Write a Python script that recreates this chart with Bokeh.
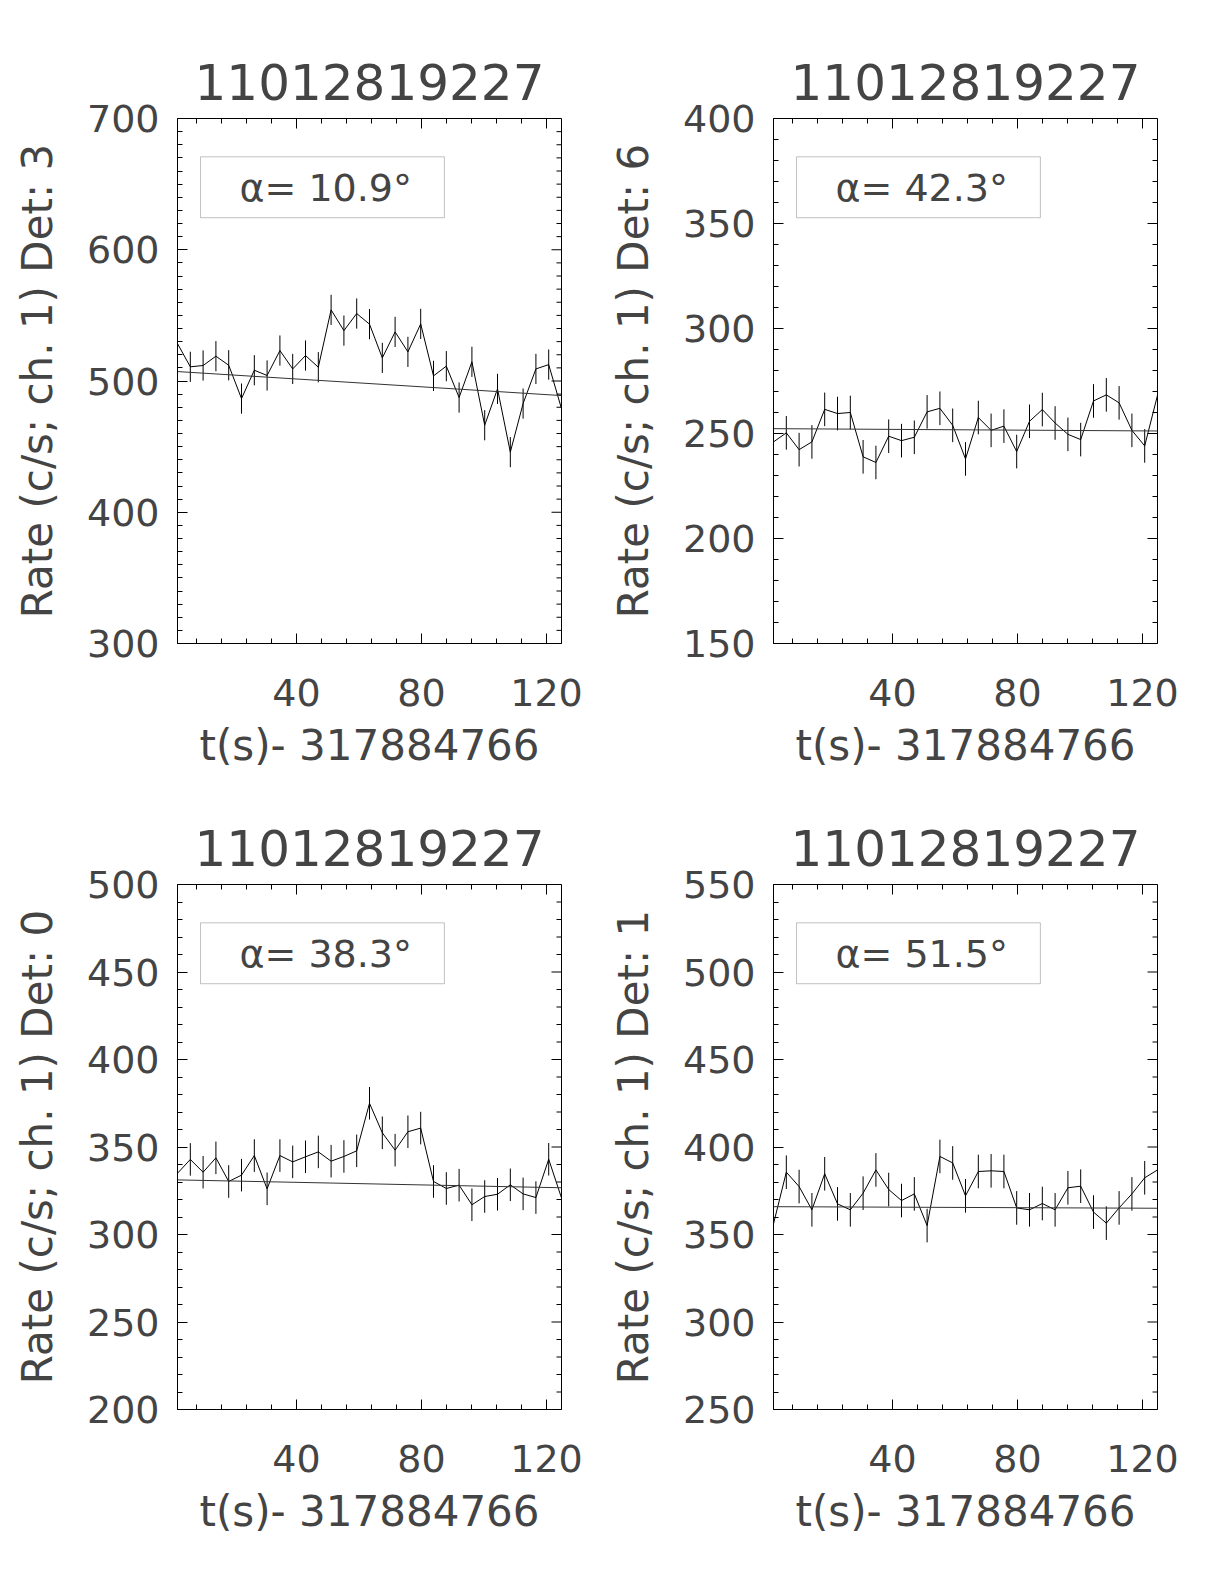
import math
from bokeh.plotting import figure
from bokeh.layouts import column, row
from bokeh.models import FixedTicker, Range1d, Label, BoxAnnotation
from bokeh.embed import file_html
from bokeh.resources import INLINE

# ---------------- data ----------------
title_text = "11012819227"
x_label = "t(s)- 317884766"

times = [1.92, 6.02, 10.11, 14.21, 18.30, 22.40, 26.50, 30.59, 34.69, 38.78,
         42.88, 46.98, 51.07, 55.17, 59.26, 63.36, 67.46, 71.55, 75.65, 79.74,
         83.84, 87.94, 92.03, 96.13, 100.22, 104.32, 108.42, 112.51, 116.61, 120.70,
         124.80]
x_ticks = [40, 80, 120]

det3_rate = [528.5, 510.8, 511.8, 518.9, 512.0, 486.6, 508.2, 504.2, 523.2, 509.2,
             519.4, 510.5, 554.2, 538.4, 551.4, 543.3, 517.6, 537.4, 522.2, 543.5,
             503.9, 511.3, 487.4, 514.6, 466.3, 494.0, 445.8, 482.8, 509.2, 512.5,
             478.9]
det3_err = 11.5
det3_fit = [507.2, 488.9]
det3_alpha = 10.9
det3_yticks = [300, 400, 500, 600, 700]

det6_rate = [246.0, 250.3, 242.3, 246.0, 261.5, 259.5, 260.0, 238.9, 236.2, 248.7,
             246.6, 248.2, 260.3, 262.0, 253.9, 237.9, 257.6, 251.5, 253.5, 241.4,
             255.8, 261.4, 255.0, 249.6, 247.1, 265.5, 268.4, 264.6, 251.5, 244.1,
             268.2]
det6_err = 8.0
det6_fit = [252.3, 251.2]
det6_alpha = 42.3
det6_yticks = [150, 200, 250, 300, 350, 400]

det0_rate = [335.0, 342.9, 335.6, 343.8, 330.3, 333.9, 345.1, 326.1, 345.1, 341.5,
             344.4, 347.2, 341.9, 344.6, 347.8, 375.0, 358.1, 348.2, 358.7, 360.8,
             330.3, 326.3, 328.2, 317.0, 321.7, 323.0, 328.4, 323.2, 321.1, 343.0,
             320.9]
det0_err = 9.3
det0_fit = [331.2, 326.7]
det0_alpha = 38.3
det0_yticks = [200, 250, 300, 350, 400, 450, 500]

det1_rate = [356.1, 385.6, 377.4, 364.1, 384.7, 367.5, 364.1, 373.6, 386.9, 375.7,
             369.4, 373.2, 355.1, 394.6, 390.9, 372.1, 386.0, 386.4, 386.0, 365.2,
             364.1, 367.7, 364.1, 376.7, 377.6, 362.8, 356.5, 365.2, 373.2, 382.4,
             386.9]
det1_err = 9.6
det1_fit = [365.9, 365.0]
det1_alpha = 51.5
det1_yticks = [250, 300, 350, 400, 450, 500, 550]

panels = [
    (3, det3_rate, det3_err, det3_fit, det3_alpha, det3_yticks),
    (6, det6_rate, det6_err, det6_fit, det6_alpha, det6_yticks),
    (0, det0_rate, det0_err, det0_fit, det0_alpha, det0_yticks),
    (1, det1_rate, det1_err, det1_fit, det1_alpha, det1_yticks),
]

# ---------------- style ----------------
FONT = "DejaVu Sans"
TXT = "#444444"
TICK_FS = "38px"
LABEL_FS = "42px"


def style_axis(ax):
    ax.axis_line_color = "black"
    ax.major_tick_line_color = "black"
    ax.minor_tick_line_color = "black"
    ax.major_tick_in = 10
    ax.major_tick_out = 0
    ax.minor_tick_in = 5
    ax.minor_tick_out = 0
    ax.major_label_text_font = FONT
    ax.major_label_text_color = TXT
    ax.major_label_text_font_size = TICK_FS
    ax.axis_label_text_font = FONT
    ax.axis_label_text_color = TXT
    ax.axis_label_text_font_style = "normal"
    ax.axis_label_text_font_size = LABEL_FS


def make_panel(det, rate, err, fit, alpha, yticks, top_border):
    x0, x1 = times[0], times[-1]
    y0, y1 = yticks[0], yticks[-1]
    yminor = [v for v in range(y0, y1 + 1, 10) if v not in yticks]
    xminor = [v for v in range(8, 125, 8) if v not in x_ticks]

    p = figure(frame_width=384, frame_height=525,
               x_range=Range1d(x0, x1), y_range=Range1d(y0, y1),
               output_backend="svg", toolbar_location=None,
               min_border_left=177, min_border_right=35,
               min_border_top=top_border, min_border_bottom=135,
               title=title_text)
    p.background_fill_color = "white"
    p.border_fill_color = "white"
    p.outline_line_color = "black"
    p.outline_line_width = 1
    p.grid.visible = False

    p.title.text_font = FONT
    p.title.text_font_size = "50px"
    p.title.text_font_style = "normal"
    p.title.text_color = TXT
    p.title.align = "center"
    p.title.standoff = 37

    p.xaxis.ticker = FixedTicker(ticks=x_ticks, minor_ticks=xminor)
    p.yaxis.ticker = FixedTicker(ticks=yticks, minor_ticks=yminor)
    for ax in p.xaxis:
        style_axis(ax)
        ax.axis_label = x_label
        ax.major_label_standoff = 35
        ax.axis_label_standoff = 12
    for ax in p.yaxis:
        style_axis(ax)
        ax.axis_label = f"Rate (c/s; ch. 1) Det: {det}"
        ax.major_label_standoff = 18
        ax.axis_label_standoff = 22

    # inward ticks on top and right edges (box axes, no labels)
    p.scatter(x=x_ticks, y=[y1] * len(x_ticks), marker="dash", size=20,
              angle=math.pi / 2, line_color="black", line_width=1)
    p.scatter(x=xminor, y=[y1] * len(xminor), marker="dash", size=10,
              angle=math.pi / 2, line_color="black", line_width=1)
    p.scatter(x=[x1] * len(yticks), y=yticks, marker="dash", size=20,
              line_color="black", line_width=1)
    p.scatter(x=[x1] * len(yminor), y=yminor, marker="dash", size=10,
              line_color="black", line_width=1)

    lo = [r - err for r in rate]
    hi = [r + err for r in rate]
    p.segment(x0=times, y0=lo, x1=times, y1=hi, line_color="black", line_width=1)
    p.line(times, rate, line_color="black", line_width=1)
    p.line([x0, x1], fit, line_color="#333333", line_width=1)

    # annotation box (positions as fractions of the frame)
    xr = x1 - x0
    yr = y1 - y0
    box = BoxAnnotation(left=x0 + 0.06 * xr, right=x0 + 0.695 * xr,
                        bottom=y0 + 0.811 * yr, top=y0 + 0.927 * yr,
                        fill_color=None, fill_alpha=0,
                        line_color="#333333", line_width=1)
    p.add_layout(box)
    lab = Label(x=x0 + 0.386 * xr, y=y0 + 0.867 * yr, text=f"α= {alpha}°",
                text_align="center", text_baseline="middle",
                text_font=FONT, text_font_size="38px", text_color=TXT)
    p.add_layout(lab)
    return p


top_borders = [118, 118, 106, 106]
figs = [make_panel(*args, tb) for args, tb in zip(panels, top_borders)]
layout = column(row(figs[0], figs[1]), row(figs[2], figs[3]))

open("out.html", "w").write(file_html(layout, INLINE))
